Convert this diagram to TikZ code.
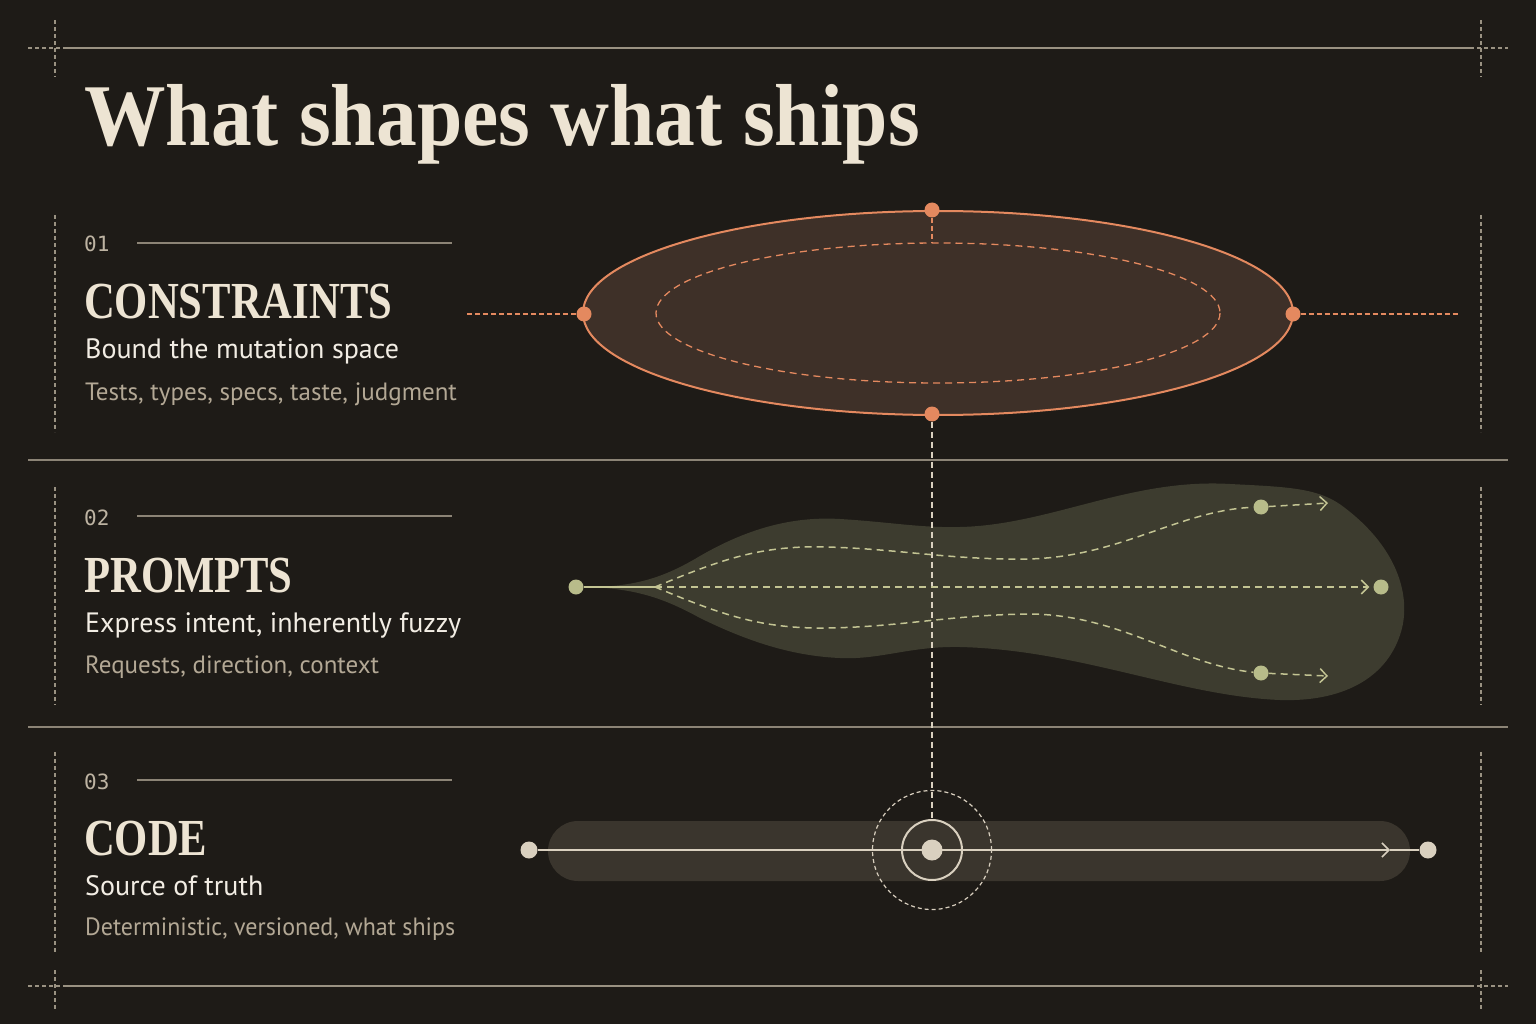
\documentclass[tikz,border=0pt]{standalone}
\usepackage{fontspec}
\setmainfont{Liberation Serif}
\setsansfont{PT Sans}
\setmonofont{DejaVu Sans Mono}
\newfontfamily\headfont{Liberation Serif}
\usetikzlibrary{arrows.meta}
\definecolor{bgc}{HTML}{1E1B17}
\definecolor{rulec}{HTML}{8C8476}
\definecolor{framec}{HTML}{9A9282}
\definecolor{creamc}{HTML}{EDE4D3}
\definecolor{subc}{HTML}{F2EDE4}
\definecolor{grayc}{HTML}{B3A895}
\definecolor{numc}{HTML}{BDB3A2}
\definecolor{orangec}{HTML}{E4895F}
\definecolor{ellfill}{HTML}{3E3028}
\definecolor{greenc}{HTML}{C3C493}
\definecolor{gdot}{HTML}{B8BC8A}
\definecolor{blobfill}{HTML}{3D3C2F}
\definecolor{barfill}{HTML}{3A352D}
\definecolor{codec}{HTML}{D9D0BF}
\tikzset{
  framedash/.style={draw=framec, line width=1.1, dash pattern=on 4 off 3},
  rulesolid/.style={draw=rulec, line width=1.3},
  numtext/.style={anchor=base west, inner sep=0, text=numc, font=\ttfamily\fontsize{21}{21}\selectfont},
  headtext/.style={anchor=base west, inner sep=0, text=creamc},
  subtext/.style={anchor=base west, inner sep=0, text=subc, font=\sffamily\fontsize{28}{28}\selectfont},
  graytext/.style={anchor=base west, inner sep=0, text=grayc, font=\sffamily\fontsize{25}{25}\selectfont},
  odot/.style={circle, fill=orangec, inner sep=0, minimum size=15},
  gdotn/.style={circle, fill=gdot, inner sep=0, minimum size=15},
  cdot/.style={circle, fill=codec, inner sep=0, minimum size=17},
  gdash/.style={draw=greenc, line width=1.5, dash pattern=on 7 off 5},
  barb/.style={-{Straight Barb[length=7, width=14, line width=1.5]}},
}
\newcommand{\hd}[2]{\scalebox{#1}[1]{\headfont\bfseries\fontsize{52}{52}\selectfont #2}}
\begin{document}
\begin{tikzpicture}[x=1pt, y=-1pt]
\fill[bgc] (0,0) rectangle (1536,1024);
\useasboundingbox (0,0) rectangle (1536,1024);

% frame
\draw[rulesolid, draw=framec] (66,48) -- (1470,48);
\draw[framedash] (28,48) -- (66,48);
\draw[framedash] (1470,48) -- (1508,48);
\draw[framedash] (55,20) -- (55,77);
\draw[framedash] (1481,20) -- (1481,77);
\draw[rulesolid, draw=framec] (66,986) -- (1470,986);
\draw[framedash] (28,986) -- (66,986);
\draw[framedash] (1470,986) -- (1508,986);
\draw[framedash] (55,970) -- (55,1009);
\draw[framedash] (1481,970) -- (1481,1009);
% section separators
\draw[rulesolid] (28,460) -- (1508,460);
\draw[rulesolid] (28,727) -- (1508,727);
% side dashed
\foreach \a/\b in {215/432, 487/705, 752/952}{
  \draw[framedash] (55,\a) -- (55,\b);
  \draw[framedash] (1481,\a) -- (1481,\b);
}

% title
\node[headtext] (title) at (84,146) {\scalebox{1}[1.08]{\headfont\bfseries\fontsize{81.5}{82}\selectfont What shapes what ships}};

% section 1
\node[numtext] (n1) at (84,252) {01};
\draw[rulesolid] (137,243) -- (452,243);
\node[headtext] (h1) at (84,318) {\hd{0.82}{CONSTRAINTS}};
\node[subtext] (s1) at (85,358) {Bound the mutation space};
\node[graytext] (g1) at (85,400) {Tests, types, specs, taste, judgment};

% section 2
\node[numtext] (n2) at (84,525) {02};
\draw[rulesolid] (137,516) -- (452,516);
\node[headtext] (h2) at (84,592) {\hd{0.82}{PROMPTS}};
\node[subtext] (s2) at (85,632) {Express intent, inherently fuzzy};
\node[graytext] (g2) at (85,673) {Requests, direction, context};

% section 3
\node[numtext] (n3) at (84,789) {03};
\draw[rulesolid] (137,780) -- (452,780);
\node[headtext] (h3) at (84,855) {\hd{0.82}{CODE}};
\node[subtext] (s3) at (85,895) {Source of truth};
\node[graytext] (g3) at (85,935) {\scalebox{0.96}[1]{Deterministic, versioned, what ships}};

% constraints ellipse
\draw[orangec, fill=ellfill, line width=2] (938,313) ellipse [x radius=355, y radius=102];
\draw[orangec, line width=1.3, dash pattern=on 7 off 5] (938,313) ellipse [x radius=282, y radius=70];
\coordinate (ein) at (932,243);
\coordinate (eleft) at (467,314);
\coordinate (eright) at (1460,314);
\node[odot] (etop) at (932,210) {};
\node[odot] (ebot) at (932,414) {};
\node[odot] (el) at (584,314) {};
\node[odot] (er) at (1293,314) {};
\draw[orangec, line width=1.3, dash pattern=on 5 off 3] (eleft) -- (el);
\draw[orangec, line width=1.3, dash pattern=on 5 off 3] (er) -- (eright);
\draw[orangec, line width=1.2, dash pattern=on 5 off 3] (etop) -- (ein);

% prompts blob
\fill[blobfill] (576,587) .. controls (630,588) and (660,580) .. (700,556)
  .. controls (745,530) and (790,516) .. (840,519)
  .. controls (890,522) and (920,528) .. (960,527)
  .. controls (1050,525) and (1130,478) .. (1230,484)
  .. controls (1290,487) and (1320,488) .. (1345,508)
  .. controls (1400,550) and (1412,600) .. (1400,635)
  .. controls (1385,680) and (1340,702) .. (1280,700)
  .. controls (1180,696) and (1080,650) .. (960,647)
  .. controls (910,646) and (880,660) .. (840,658)
  .. controls (790,656) and (745,640) .. (700,618)
  .. controls (660,596) and (630,587) .. (576,587) -- cycle;

% code bar
\fill[barfill, rounded corners=30] (548,821) rectangle (1410,881);

% vertical link and rings
\node[circle, draw=codec, line width=1.2, dash pattern=on 4 off 3, inner sep=0, minimum size=119] (halo) at (932,850) {};
\node[circle, draw=codec, line width=2, inner sep=0, minimum size=60] (ring) at (932,850) {};
\draw[draw=codec, line width=1.2, dash pattern=on 6 off 4] (ebot) -- (ring.north);

% prompts lines
\node[gdotn] (pl) at (576,587) {};
\node[gdotn] (pr) at (1381,587) {};
\node[gdotn] (pu) at (1261,507) {};
\node[gdotn] (pd) at (1261,673) {};
\coordinate (pfork) at (655,587);
\coordinate (pua) at (1328,503);
\coordinate (pda) at (1328,676);
\draw[greenc, line width=2] (pl) -- (pfork);
\draw[gdash, barb, shorten >=4] (pfork) -- (pr);
\draw[gdash] (pfork) .. controls (720,560) and (760,545) .. (827,547)
  .. controls (900,549) and (950,560) .. (1028,559)
  .. controls (1120,557) and (1180,510) .. (pu);
\draw[gdash] (pfork) .. controls (720,614) and (760,629) .. (827,628)
  .. controls (900,627) and (950,615) .. (1028,614)
  .. controls (1120,614) and (1180,665) .. (pd);
\draw[gdash, barb] (pu) -- (pua);
\draw[gdash, barb] (pd) -- (pda);

% code line
\node[cdot] (cl) at (529,850) {};
\node[cdot] (cr) at (1428,850) {};
\coordinate (ca) at (1390,850);
\draw[codec, line width=2, barb] (cl) -- (ca);
\draw[codec, line width=2] (ca) -- (cr);
\node[circle, fill=codec, inner sep=0, minimum size=21] (core) at (932,850) {};
\end{tikzpicture}
\end{document}
